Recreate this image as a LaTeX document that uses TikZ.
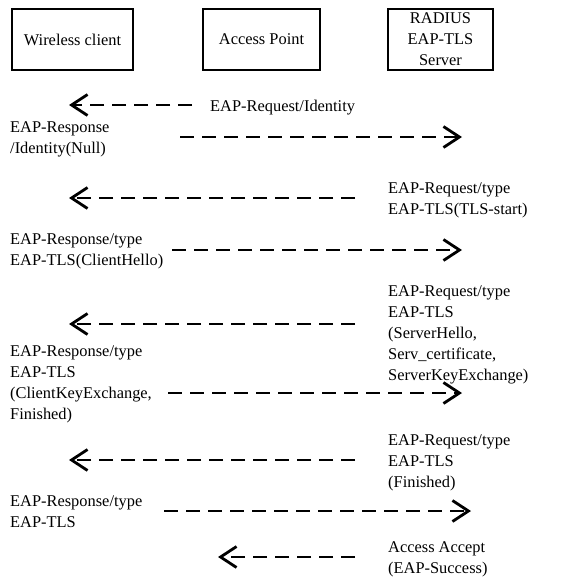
\documentclass[tikz,border=0pt]{standalone}
\usepackage{fontspec}
\setmainfont{Liberation Serif}
\usetikzlibrary{arrows.meta}
\tikzset{
  entity/.style={draw, line width=1.6pt, minimum height=61pt, align=center,
    inner sep=0pt, font=\fontsize{16.4}{21}\selectfont},
  % labels are placed by the baseline of their last line
  lbl/.style={anchor=base west, inner sep=0pt, align=left,
    font=\fontsize{16.4}{21}\selectfont},
  msg/.style={line width=2pt, dash pattern=on 14pt off 8pt,
    -{Straight Barb[length=16pt,width=21pt,line width=2.8pt]}},
}
\begin{document}
\begin{tikzpicture}[x=1pt,y=-1pt]
\useasboundingbox (0,0) rectangle (584,576);

% participants
\node[entity, minimum width=121pt] (client) at (72.5,39.5) {Wireless client};
\node[entity, minimum width=117pt] (ap) at (261.5,39.5) {Access Point};
\node[entity, minimum width=105pt] (radius) at (440.5,39.5) {RADIUS\\EAP-TLS\\Server};

% message 1
\node[lbl] (m1) at (210,111) {EAP-Request/Identity};
\coordinate (m1s) at (192,105);
\coordinate (m1e) at (69,105);
\draw[msg] (m1s) -- (m1e);

% message 2
\node[lbl] (m2) at (10,153) {EAP-Response\\/Identity(Null)};
\coordinate (m2s) at (180,137);
\coordinate (m2e) at (462,137);
\draw[msg] (m2s) -- (m2e);

% message 3
\node[lbl] (m3) at (388,214) {EAP-Request/type\\EAP-TLS(TLS-start)};
\coordinate (m3s) at (355,198);
\coordinate (m3e) at (69,198);
\draw[msg] (m3s) -- (m3e);

% message 4
\node[lbl] (m4) at (10,265) {EAP-Response/type\\EAP-TLS(ClientHello)};
\coordinate (m4s) at (172,250);
\coordinate (m4e) at (462,250);
\draw[msg] (m4s) -- (m4e);

% message 5
\node[lbl] (m5) at (388,380) {EAP-Request/type\\EAP-TLS\\(ServerHello,\\Serv\_certificate,\\ServerKeyExchange)};
\coordinate (m5s) at (355,324);
\coordinate (m5e) at (69,324);
\draw[msg] (m5s) -- (m5e);

% message 6
\node[lbl] (m6) at (10,419) {EAP-Response/type\\EAP-TLS\\(ClientKeyExchange,\\Finished)};
\coordinate (m6s) at (168,393);
\coordinate (m6e) at (462,393);
\draw[msg] (m6s) -- (m6e);

% message 7
\node[lbl] (m7) at (388,487) {EAP-Request/type\\EAP-TLS\\(Finished)};
\coordinate (m7s) at (355,460);
\coordinate (m7e) at (69,460);
\draw[msg] (m7s) -- (m7e);

% message 8
\node[lbl] (m8) at (10,527) {EAP-Response/type\\EAP-TLS};
\coordinate (m8s) at (164,511);
\coordinate (m8e) at (471,511);
\draw[msg] (m8s) -- (m8e);

% message 9
\node[lbl] (m9) at (388,573) {Access Accept\\(EAP-Success)};
\coordinate (m9s) at (355,557);
\coordinate (m9e) at (218,557);
\draw[msg] (m9s) -- (m9e);
\end{tikzpicture}
\end{document}
